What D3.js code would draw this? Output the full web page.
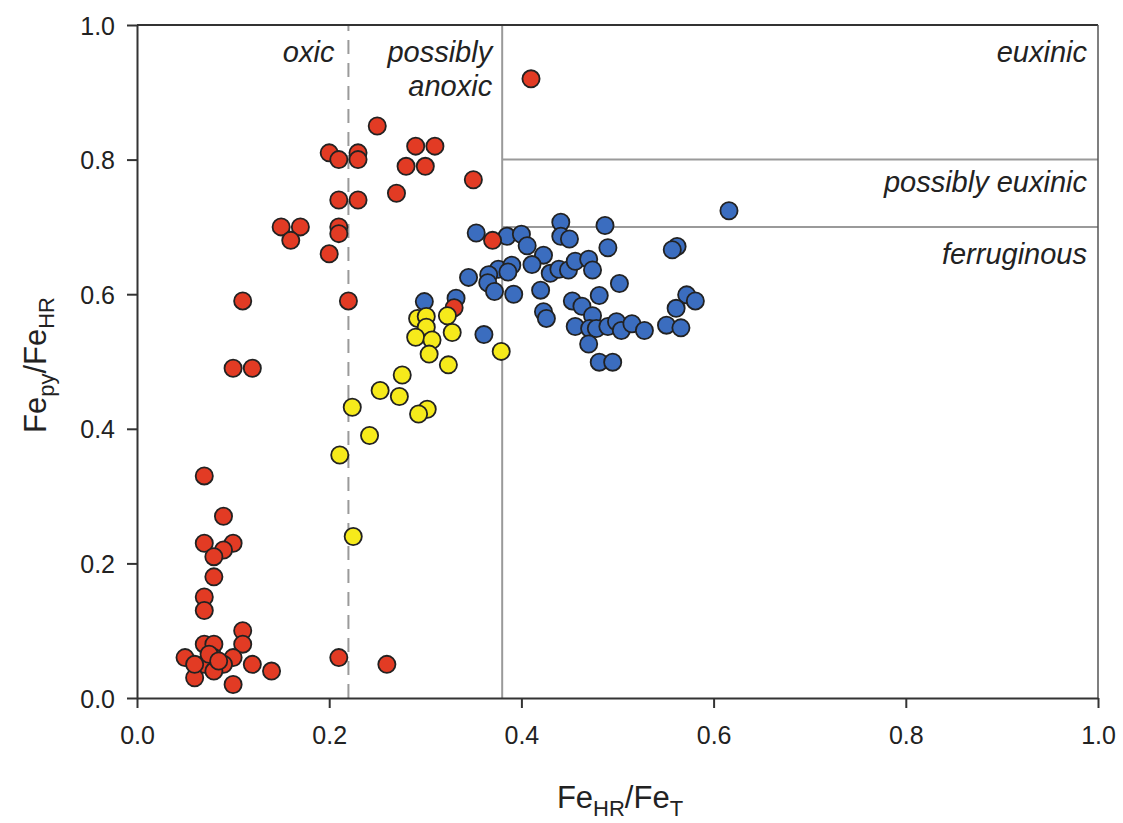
<!DOCTYPE html>
<html>
<head>
<meta charset="utf-8">
<script src="https://cdn.jsdelivr.net/npm/d3@7"></script>
<style>
  html, body { margin: 0; padding: 0; background: #fff; }
  svg { display: block; }
  text { font-family: "Liberation Sans", Arial, Helvetica, sans-serif; fill: #222; }
</style>
</head>
<body>
<svg id="chart" width="1123" height="823"></svg>
<script>
// ---- data ----
const xTicks = [0.0, 0.2, 0.4, 0.6, 0.8, 1.0];
const yTicks = [0.0, 0.2, 0.4, 0.6, 0.8, 1.0];

const redPoints = [
  [0.07,0.33],[0.09,0.27],[0.07,0.23],[0.10,0.23],[0.09,0.22],[0.08,0.21],[0.08,0.18],
  [0.07,0.15],[0.07,0.13],[0.11,0.10],[0.11,0.08],[0.07,0.08],[0.08,0.08],[0.05,0.06],
  [0.08,0.06],[0.10,0.06],[0.07,0.05],[0.09,0.05],[0.08,0.04],[0.06,0.03],[0.10,0.02],
  [0.12,0.05],[0.14,0.04],[0.21,0.06],[0.26,0.05],[0.06,0.05],[0.075,0.065],[0.085,0.055],
  [0.25,0.85],[0.20,0.81],[0.21,0.80],[0.23,0.81],[0.23,0.80],[0.29,0.82],[0.31,0.82],
  [0.28,0.79],[0.30,0.79],[0.35,0.77],[0.27,0.75],[0.21,0.74],[0.23,0.74],[0.15,0.70],
  [0.17,0.70],[0.16,0.68],[0.21,0.70],[0.21,0.69],[0.20,0.66],[0.11,0.59],[0.22,0.59],
  [0.10,0.49],[0.12,0.49],[0.37,0.68],[0.33,0.58],[0.41,0.92]
];

const yellowPoints = [
  [0.292,0.564],[0.301,0.567],[0.301,0.551],[0.290,0.536],[0.307,0.532],[0.304,0.511],
  [0.323,0.568],[0.328,0.543],[0.324,0.495],[0.379,0.515],[0.276,0.480],[0.253,0.457],
  [0.273,0.448],[0.302,0.429],[0.293,0.422],[0.224,0.432],[0.242,0.390],[0.211,0.361],
  [0.225,0.240]
];

const bluePoints = [
  [0.616,0.724],[0.441,0.707],[0.487,0.702],[0.353,0.691],[0.385,0.686],[0.400,0.689],
  [0.406,0.672],[0.441,0.686],[0.450,0.682],[0.490,0.669],[0.562,0.671],[0.557,0.666],
  [0.423,0.658],[0.411,0.644],[0.376,0.637],[0.390,0.643],[0.386,0.633],[0.366,0.629],
  [0.365,0.617],[0.372,0.604],[0.392,0.600],[0.345,0.625],[0.332,0.594],[0.430,0.631],
  [0.439,0.637],[0.449,0.636],[0.456,0.649],[0.470,0.652],[0.474,0.636],[0.420,0.606],
  [0.502,0.616],[0.481,0.598],[0.572,0.599],[0.581,0.590],[0.561,0.579],[0.453,0.590],
  [0.463,0.582],[0.474,0.568],[0.423,0.574],[0.426,0.564],[0.456,0.552],[0.471,0.549],
  [0.478,0.549],[0.490,0.552],[0.499,0.559],[0.504,0.546],[0.515,0.556],[0.528,0.546],
  [0.551,0.554],[0.566,0.550],[0.470,0.526],[0.481,0.499],[0.495,0.499],[0.361,0.540],
  [0.299,0.589]
];

const oxicLimit = 0.22;
const anoxicLimit = 0.38;
const euxinicLimit = 0.8;
const possEuxLimit = 0.7;

// ---- drawing ----
const svg = d3.select("#chart");
const x = d3.scaleLinear().domain([0, 1]).range([137, 1098]);
const y = d3.scaleLinear().domain([0, 1]).range([698, 25]);

const refColor = "#9a9a9a";

// reference lines
svg.append("line")
  .attr("x1", x(oxicLimit)).attr("x2", x(oxicLimit))
  .attr("y1", y(0)).attr("y2", y(1))
  .attr("stroke", refColor).attr("stroke-width", 2)
  .attr("stroke-dasharray", "14,9");
svg.append("line")
  .attr("x1", x(anoxicLimit)).attr("x2", x(anoxicLimit))
  .attr("y1", y(0)).attr("y2", y(1))
  .attr("stroke", refColor).attr("stroke-width", 2);
[euxinicLimit, possEuxLimit].forEach(v => {
  svg.append("line")
    .attr("x1", x(anoxicLimit)).attr("x2", x(1))
    .attr("y1", y(v)).attr("y2", y(v))
    .attr("stroke", refColor).attr("stroke-width", 2);
});

// frame top and right
svg.append("line").attr("x1", x(0)).attr("x2", x(1)).attr("y1", y(1)).attr("y2", y(1))
  .attr("stroke", "#333").attr("stroke-width", 2);
svg.append("line").attr("x1", x(1)).attr("x2", x(1)).attr("y1", y(0)).attr("y2", y(1))
  .attr("stroke", "#555").attr("stroke-width", 1.5);

// axes
const xAxis = d3.axisBottom(x).tickValues(xTicks).tickFormat(d3.format(".1f"))
  .tickSizeOuter(0).tickSizeInner(10).tickPadding(12);
const yAxis = d3.axisLeft(y).tickValues(yTicks).tickFormat(d3.format(".1f"))
  .tickSizeOuter(0).tickSizeInner(10).tickPadding(12);

const gx = svg.append("g").attr("transform", `translate(0,${y(0)})`).call(xAxis);
const gy = svg.append("g").attr("transform", `translate(${x(0)},0)`).call(yAxis);
[gx, gy].forEach(g => {
  g.select(".domain").attr("stroke", "#333").attr("stroke-width", 2);
  g.selectAll(".tick line").attr("stroke", "#333").attr("stroke-width", 2);
  g.selectAll(".tick text")
    .attr("font-family", '"Liberation Sans", Arial, sans-serif')
    .attr("font-size", 25).attr("fill", "#2a2a2a");
});
gx.selectAll(".tick text").attr("dy", "0.95em");
gy.selectAll(".tick text").attr("dy", "0.36em");

// points
function drawSeries(data, fill) {
  svg.append("g").selectAll("circle").data(data).join("circle")
    .attr("cx", d => x(d[0])).attr("cy", d => y(d[1]))
    .attr("r", 8.6)
    .attr("fill", fill)
    .attr("stroke", "#222").attr("stroke-width", 1.8);
}
drawSeries(bluePoints, "#3b6dbf");
drawSeries(redPoints, "#e23b24");
drawSeries(yellowPoints, "#f6ea1b");

// region labels
function regionLabel(txt, px, py) {
  svg.append("text").text(txt)
    .attr("x", px).attr("y", py)
    .attr("text-anchor", "end")
    .attr("font-style", "italic")
    .attr("font-size", 29)
    .attr("fill", "#111");
}
regionLabel("oxic", x(oxicLimit) - 14, 62);
regionLabel("possibly", x(anoxicLimit) - 10, 62);
regionLabel("anoxic", x(anoxicLimit) - 10, 96);
regionLabel("euxinic", x(1) - 11, 62);
regionLabel("possibly euxinic", x(1) - 11, 192);
regionLabel("ferruginous", x(1) - 11, 264);

// axis titles
const xt = svg.append("text")
  .attr("x", 620).attr("y", 808)
  .attr("text-anchor", "middle").attr("font-size", 31).attr("fill", "#222");
xt.append("tspan").text("Fe");
xt.append("tspan").text("HR").attr("font-size", 22).attr("dy", 8);
xt.append("tspan").text("/Fe").attr("dy", -8);
xt.append("tspan").text("T").attr("font-size", 22).attr("dy", 8);

const yt = svg.append("text")
  .attr("transform", "translate(46,365) rotate(-90)")
  .attr("text-anchor", "middle").attr("font-size", 31).attr("fill", "#222");
yt.append("tspan").text("Fe");
yt.append("tspan").text("py").attr("font-size", 22).attr("dy", 8);
yt.append("tspan").text("/Fe").attr("dy", -8);
yt.append("tspan").text("HR").attr("font-size", 22).attr("dy", 8);
</script>
</body>
</html>
